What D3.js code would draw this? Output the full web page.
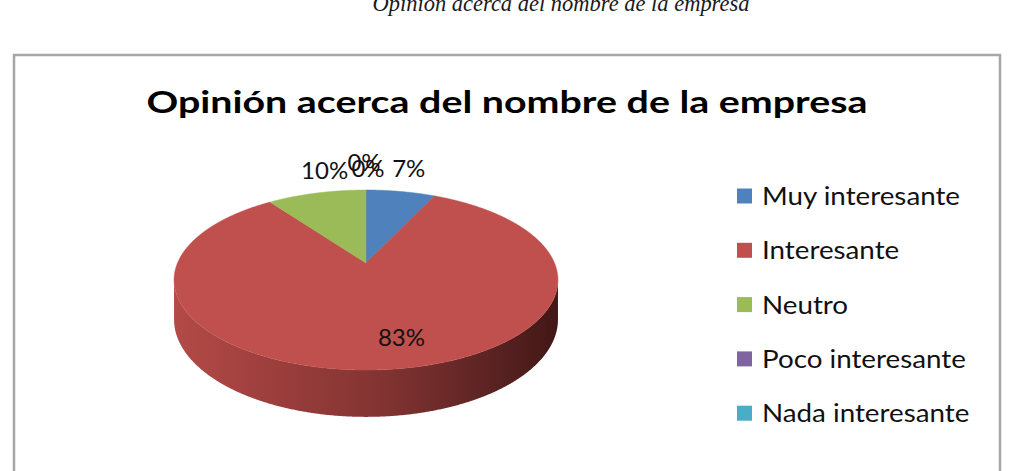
<!DOCTYPE html>
<html>
<head>
<meta charset="utf-8">
<script src="https://cdn.jsdelivr.net/npm/d3@7"></script>
<style>
  body { margin: 0; background: #fff; }
  svg { display: block; }
</style>
</head>
<body>
<script>
// Data
const categories = ["Muy interesante", "Interesante", "Neutro", "Poco interesante", "Nada interesante"];
const values = [7, 83, 10, 0, 0];
const colors = ["#4f81bd", "#c0504d", "#9bbb59", "#8064a2", "#4bacc6"];
const pageCaption = "Opinión acerca del nombre de la empresa";
const chartTitle = "Opinión acerca del nombre de la empresa";

const width = 1021;
const height = 471;

const svg = d3.select("body").append("svg")
    .attr("width", width)
    .attr("height", height);

// Caption of the document, cut off at the top
svg.append("text")
    .attr("x", 561)
    .attr("y", 11)
    .attr("text-anchor", "middle")
    .attr("textLength", 377)
    .attr("lengthAdjust", "spacingAndGlyphs")
    .style("font-family", "'Liberation Serif', 'Times New Roman', serif")
    .style("font-style", "italic")
    .style("font-size", "24px")
    .style("fill", "#1a1a1a")
    .text(pageCaption);

// Chart frame
svg.append("rect")
    .attr("x", 14)
    .attr("y", 55)
    .attr("width", 986)
    .attr("height", 500)
    .attr("fill", "#fff")
    .attr("stroke", "#a6a6a6")
    .attr("stroke-width", 2.5);

// Title
svg.append("text")
    .attr("x", 507)
    .attr("y", 113)
    .attr("text-anchor", "middle")
    .attr("textLength", 721)
    .attr("lengthAdjust", "spacingAndGlyphs")
    .style("font-family", "Lato, 'Open Sans', sans-serif")
    .style("font-weight", "bold")
    .style("font-size", "30px")
    .style("fill", "#000")
    .text(chartTitle);

// 3D pie with a bit of perspective
const cx = 366, cy = 263;     // apex of the slices
const A = 86.8, B = 188.5;    // vertical / horizontal radius factors
const u = 0.189;              // perspective strength
const depth = 38;             // thickness of the pie

function proj(a, r, drop) {
    const w = 1 + u * r * Math.cos(a);
    return [cx + B * r * Math.sin(a) / w, cy - A * r * Math.cos(a) / w + (drop || 0) / w];
}

const pie = d3.pie().sort(null).value(d => d)
    .startAngle(0).endAngle(2 * Math.PI);
const arcs = pie(values);

const line = d3.line();
const step = 0.005;

function rimPoints(a0, a1, drop) {
    const n = Math.max(2, Math.ceil(Math.abs(a1 - a0) / step));
    return d3.range(n + 1).map(i => proj(a0 + (a1 - a0) * i / n, 1, drop));
}

// side wall (front half, where the rim is the silhouette)
const sideStart = Math.PI / 2 + Math.asin(u);
const sideEnd = 3 * Math.PI / 2 - Math.asin(u);

const defs = svg.append("defs");
const grad = defs.append("linearGradient")
    .attr("id", "side")
    .attr("gradientUnits", "userSpaceOnUse")
    .attr("x1", cx - B * 1.02).attr("x2", cx + B * 1.02)
    .attr("y1", 0).attr("y2", 0);
[[0, "#b34a47"], [0.3, "#983d3b"], [0.55, "#813331"], [0.8, "#5e2524"], [1, "#421716"]]
    .forEach(s => grad.append("stop").attr("offset", s[0]).attr("stop-color", s[1]));

arcs.forEach((d, i) => {
    const a0 = Math.max(d.startAngle, sideStart);
    const a1 = Math.min(d.endAngle, sideEnd);
    if (a1 <= a0 || d.value === 0) return;
    const pts = rimPoints(a0, a1, 0).concat(rimPoints(a1, a0, depth));
    svg.append("path")
        .attr("d", line(pts) + "Z")
        .attr("fill", i === 1 ? "url(#side)" : d3.color(colors[i]).darker(0.8));
});

// top faces
svg.append("g")
    .selectAll("path")
    .data(arcs.filter(d => d.value > 0))
    .join("path")
    .attr("d", d => line([proj(0, 0)].concat(rimPoints(d.startAngle, d.endAngle, 0))) + "Z")
    .attr("fill", d => colors[d.index])
    .attr("stroke", d => colors[d.index])
    .attr("stroke-width", 0.5);

// data labels
const total = d3.sum(values);
const placed = [];
arcs.forEach(d => {
    const mid = (d.startAngle + d.endAngle) / 2;
    let p;
    if (d.value / total > 0.5) {
        p = proj(mid, 0.75);
        p[0] += 20;
    } else {
        p = proj(mid, 1);
        p[0] += 8;
        p[1] -= 22;
    }
    // labels that land on the same spot overlap a little, as in the reference
    const hit = placed.filter(q => Math.abs(q.x0 - p[0]) < 8 && Math.abs(q.y0 - p[1]) < 8);
    if (hit.length) {
        hit.forEach(q => q.el.attr("x", q.x0 - 10).attr("y", q.y0 + 8 - 5));
        p = [p[0] - 6, p[1] + 1];
    }
    const el = svg.append("text")
        .attr("x", p[0])
        .attr("y", p[1] + 8)
        .attr("text-anchor", "middle")
        .style("font-family", "Lato, 'Open Sans', sans-serif")
        .style("font-size", "24px")
        .style("fill", "#111")
        .text(Math.round(d.value / total * 100) + "%");
    placed.push({ x0: p[0], y0: p[1], el: el });
});

// Legend
const legend = svg.append("g")
    .selectAll("g")
    .data(categories)
    .join("g")
    .attr("transform", (d, i) => `translate(737, ${196 + i * 54.3})`);

legend.append("rect")
    .attr("x", 0)
    .attr("y", -7.5)
    .attr("width", 15)
    .attr("height", 15)
    .attr("fill", (d, i) => colors[i]);

const legendText = legend.append("text")
    .attr("x", 25)
    .attr("y", 9)
    .style("font-family", "Lato, 'Open Sans', sans-serif")
    .style("font-size", "25px")
    .style("fill", "#111")
    .text(d => d);

// widen the legend text to the reference proportions
const sx = 198 / legendText.node().getComputedTextLength();
legendText.each(function() {
    d3.select(this)
        .attr("textLength", this.getComputedTextLength() * sx)
        .attr("lengthAdjust", "spacingAndGlyphs");
});
</script>
</body>
</html>
